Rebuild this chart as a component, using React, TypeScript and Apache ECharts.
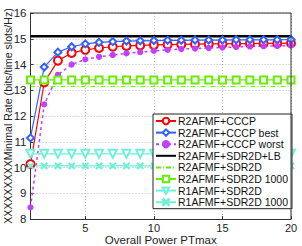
import React, { useEffect, useRef } from "react";
import * as echarts from "echarts";

const xValues = [1, 2, 3, 4, 5, 6, 7, 8, 9, 10, 11, 12, 13, 14, 15, 16, 17, 18, 19, 20];
const cccp = [10.13, 13.3, 14.15, 14.45, 14.57, 14.64, 14.69, 14.72, 14.74, 14.76, 14.77, 14.78, 14.79, 14.8, 14.8, 14.81, 14.81, 14.82, 14.82, 14.83];
const cccpBest = [11.15, 13.9, 14.48, 14.69, 14.8, 14.86, 14.89, 14.91, 14.92, 14.93, 14.94, 14.94, 14.95, 14.95, 14.95, 14.96, 14.96, 14.96, 14.96, 14.97];
const cccpWorst = [8.45, 12.45, 13.6, 14.0, 14.2, 14.3, 14.37, 14.43, 14.48, 14.53, 14.57, 14.6, 14.62, 14.64, 14.66, 14.68, 14.7, 14.71, 14.72, 14.74];
const sdrLB = [15.1, 15.1, 15.1, 15.1, 15.1, 15.1, 15.1, 15.1, 15.1, 15.1, 15.1, 15.1, 15.1, 15.1, 15.1, 15.1, 15.1, 15.1, 15.1, 15.1];
const sdr2d = [13.15, 13.15, 13.15, 13.15, 13.15, 13.15, 13.15, 13.15, 13.15, 13.15, 13.15, 13.15, 13.15, 13.15, 13.15, 13.15, 13.15, 13.15, 13.15, 13.15];
const sdr2d1000 = [13.4, 13.4, 13.4, 13.4, 13.4, 13.4, 13.4, 13.4, 13.4, 13.4, 13.4, 13.4, 13.4, 13.4, 13.4, 13.4, 13.4, 13.4, 13.4, 13.4];
const r1sdr2d = [10.53, 10.53, 10.53, 10.53, 10.53, 10.53, 10.53, 10.53, 10.53, 10.53, 10.53, 10.53, 10.53, 10.53, 10.53, 10.53, 10.53, 10.53, 10.53, 10.53];
const r1sdr2d1000 = [10.06, 10.06, 10.06, 10.06, 10.06, 10.06, 10.06, 10.06, 10.06, 10.06, 10.06, 10.06, 10.06, 10.06, 10.06, 10.06, 10.06, 10.06, 10.06, 10.06];
const seriesNames = [
  "R2AFMF+CCCP",
  "R2AFMF+CCCP best",
  "R2AFMF+CCCP worst",
  "R2AFMF+SDR2D+LB",
  "R2AFMF+SDR2D",
  "R2AFMF+SDR2D 1000",
  "R1AFMF+SDR2D",
  "R1AFMF+SDR2D 1000",
];
const xTicks = [5, 10, 15, 20];
const yTicks = [8, 9, 10, 11, 12, 13, 14, 15, 16];

const FONT = "Liberation Sans, Arial, sans-serif";
const X_SYMBOL = "path://M0,1L1,0L5,4L9,0L10,1L6,5L10,9L9,10L5,6L1,10L0,9L4,5Z";

const pair = (ys: number[]) => xValues.map((x, i) => [x, ys[i]]);

export default function App() {
  const ref = useRef<HTMLDivElement>(null);
  useEffect(() => {
    if (!ref.current) return;
    const chart = echarts.init(ref.current, null, { renderer: "svg" });
    const mk = (
      name: string,
      data: number[],
      color: string,
      symbol: string,
      symbolSize: number,
      lineType: any = "solid",
      width = 1.2,
      extra: any = {}
    ) => ({
      name,
      type: "line",
      data: pair(data),
      symbol,
      symbolSize,
      showSymbol: symbol !== "none",
      lineStyle: { color, width, type: lineType },
      itemStyle: { color, borderColor: color, borderWidth: 1.2 },
      ...extra,
    });
    chart.setOption({
      animation: false,
      backgroundColor: "#fff",
      textStyle: { fontFamily: FONT },
      grid: { left: 30.5, right: 11, top: 13, bottom: 27, containLabel: false, outerBoundsMode: "none" },
      xAxis: {
        type: "value",
        min: 1,
        max: 20,
        splitNumber: 4,
        name: "Overall Power PTmax",
        nameLocation: "middle",
        nameGap: 14.5,
        nameMoveOverlap: false,
        nameTextStyle: { fontSize: 11.5, color: "#222", fontFamily: FONT, verticalAlign: "top" },
        axisLine: { show: true, lineStyle: { color: "#333", width: 1 } },
        axisTick: { show: true, inside: true, length: 3, lineStyle: { color: "#333" } },
        axisLabel: {
          fontSize: 11,
          color: "#222",
          margin: 3,
          showMinLabel: false,
          formatter: (v: number) => (xTicks.includes(v) ? String(v) : ""),
        },
        splitLine: { show: true, lineStyle: { color: "#bbb", type: [1, 2], width: 1 } },
      },
      yAxis: {
        type: "value",
        min: yTicks[0],
        max: yTicks[yTicks.length - 1],
        interval: 1,
        name: "XXXXXXXXXMinimal Rate (bits/time slots/Hz)",
        nameLocation: "middle",
        nameGap: 17,
        nameMoveOverlap: false,
        nameRotate: 90,
        nameTextStyle: { fontSize: 10.6, color: "#222", fontFamily: FONT },
        axisLine: { show: true, lineStyle: { color: "#333", width: 1 } },
        axisTick: { show: true, inside: true, length: 3, lineStyle: { color: "#333" } },
        axisLabel: { fontSize: 11.5, color: "#222", margin: 4 },
        splitLine: { show: true, lineStyle: { color: "#bbb", type: [1, 2], width: 1 } },
      },
      legend: {
        orient: "vertical",
        left: 153,
        top: 114,
        width: 136,
        data: seriesNames.map((n, i) =>
          i === 3 || i === 4 ? { name: n, itemStyle: { opacity: 0 } } : { name: n }
        ),
        backgroundColor: "#fff",
        borderColor: "#222",
        borderWidth: 1,
        borderRadius: 0,
        padding: [1.5, 4, 1, 2],
        itemWidth: 20,
        itemHeight: 8,
        itemGap: 0.6,
        textStyle: { fontSize: 10.5, color: "#111", fontFamily: FONT, padding: [0, 0, 0, -3] },
      },
      series: [
        mk(seriesNames[0], cccp, "#ff0000", "emptyCircle", 8, "solid", 1.2),
        mk(seriesNames[1], cccpBest, "#3060ff", "emptyDiamond", 7, "solid", 1.2),
        mk(seriesNames[2], cccpWorst, "#c040ff", "circle", 5, [3, 3], 1.5),
        mk(seriesNames[3], sdrLB, "#000000", "none", 0, "solid", 2.5),
        mk(seriesNames[4], sdr2d, "#66ee00", "none", 0, [5, 2, 1, 2], 1),
        mk(seriesNames[5], sdr2d1000, "#66ee00", "emptyRect", 7, "solid", 1.2),
        mk(seriesNames[6], r1sdr2d, "#70f0d8", "emptyTriangle", 8, "solid", 1.2, { symbolRotate: 180 }),
        mk(seriesNames[7], r1sdr2d1000, "#70f0d8", X_SYMBOL, 6, "solid", 1.2),
      ],
      graphic: [
        {
          type: "line",
          shape: { x1: 30.5, y1: 13, x2: 291, y2: 13 },
          style: { stroke: "#333", lineWidth: 1 },
          z: 10,
        },
        {
          type: "line",
          shape: { x1: 291, y1: 13, x2: 291, y2: 219 },
          style: { stroke: "#333", lineWidth: 1 },
          z: 10,
        },
      ],
    });
    return () => chart.dispose();
  }, []);
  return <div ref={ref} style={{ width: 302, height: 246, position: "absolute", left: 0, top: 0 }} />;
}
